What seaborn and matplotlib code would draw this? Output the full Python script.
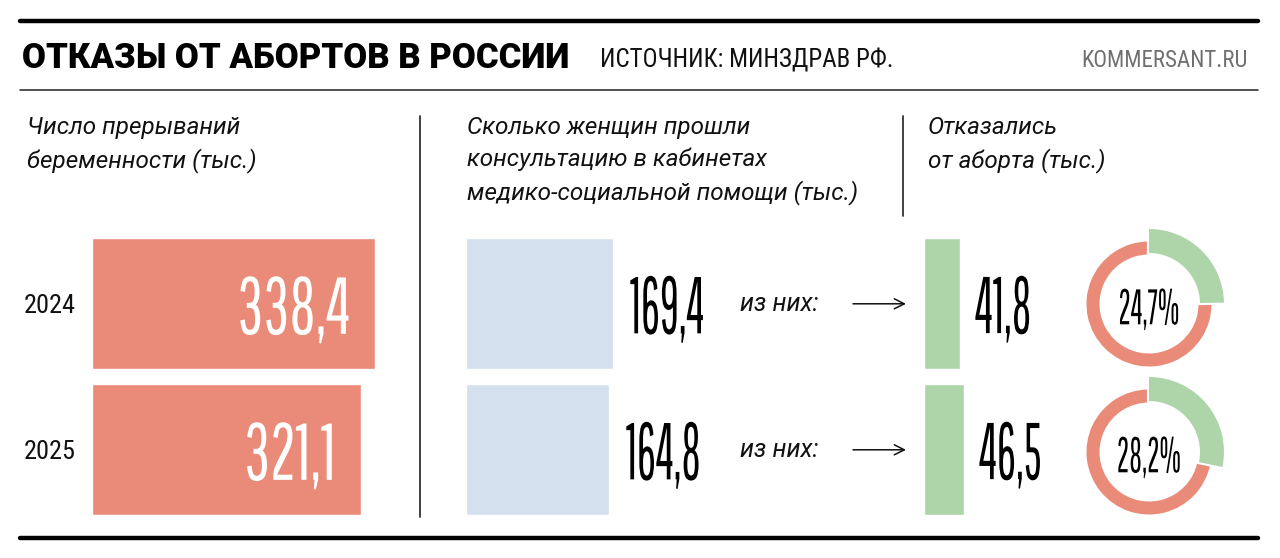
import matplotlib
matplotlib.use("Agg")
import matplotlib.pyplot as plt
import seaborn as sns
import pandas as pd
from matplotlib.text import Text
from matplotlib.patheffects import AbstractPathEffect
from matplotlib.transforms import Affine2D, offset_copy, blended_transform_factory

# ---------------- data ----------------
years = ["2024", "2025"]
abortions = [338.4, 321.1]          # Число прерываний беременности (тыс.)
consulted = [169.4, 164.8]          # прошли консультацию (тыс.)
refused = [41.8, 46.5]              # Отказались от аборта (тыс.)
refused_share = [24.7, 28.2]        # доля отказавшихся, %

title = "ОТКАЗЫ ОТ АБОРТОВ В РОССИИ"
source = "ИСТОЧНИК: МИНЗДРАВ РФ."
brand = "KOMMERSANT.RU"
head_left = "Число прерываний\nбеременности (тыс.)"
head_mid = "Сколько женщин прошли\nконсультацию в кабинетах\nмедико-социальной помощи (тыс.)"
head_right = "Отказались\nот аборта (тыс.)"
of_them = "из них:"

RED = "#E98B78"
BLUE = "#D4E0ED"
GREEN = "#AED4AA"

sns.set_style("white")

W, H = 1280, 558
fig = plt.figure(figsize=(W / 100, H / 100), dpi=100)


def fx(x):
    return x / W


def fy(y):
    return 1 - y / H


def fmt(v):
    return f"{v:.1f}".replace(".", ",")


NUM_FONT = ["Pathway Gothic One", "DejaVu Sans"]


# tall, condensed look for the big numbers: glyphs stretched vertically
class _Tall(AbstractPathEffect):
    def __init__(self, sy):
        super().__init__()
        self.sy = sy

    def draw_path(self, renderer, gc, tpath, affine, rgbFace=None):
        v = tpath.vertices
        top = float(v[:, 1].max()) if len(v) else 0.0
        a = top / 2
        t = Affine2D().translate(0, -a).scale(1, self.sy).translate(0, a) + affine
        renderer.draw_path(gc, tpath, t, rgbFace)


def big_number(s, x, y, transform, size, sy, **kw):
    t = Text(x, y, s, transform=transform, family=NUM_FONT, fontsize=size,
             va="center_baseline", **kw)
    t.set_path_effects([_Tall(sy)])
    t.set_clip_on(False)
    fig.add_artist(t)
    return t


# ---------------- frame lines ----------------
fig.add_artist(plt.Line2D([fx(20), fx(1258)], [fy(20.5), fy(20.5)], color="black", lw=3.2))
fig.add_artist(plt.Line2D([fx(20), fx(1258)], [fy(90), fy(90)], color="#222222", lw=1.1))
fig.add_artist(plt.Line2D([fx(20), fx(1258)], [fy(537.5), fy(537.5)], color="black", lw=3.2))
fig.add_artist(plt.Line2D([fx(420), fx(420)], [fy(116), fy(517)], color="#333333", lw=1.3))
fig.add_artist(plt.Line2D([fx(903), fx(903)], [fy(116), fy(216)], color="#333333", lw=1.3))

# ---------------- header ----------------
fig.text(fx(22), fy(55), title, family="Roboto", fontweight=900, fontsize=25,
         va="center_baseline", ha="left", color="black")
fig.text(fx(600), fy(58), source, family="Roboto Condensed", fontsize=18,
         va="center_baseline", ha="left", color="#111111")
fig.text(fx(1248), fy(58), brand, family="Roboto Condensed", fontsize=16.5,
         va="center_baseline", ha="right", color="#707070")

hkw = dict(family="Roboto", style="italic", fontsize=17.5, va="top", ha="left",
           color="#111111", linespacing=1.46)
fig.text(fx(27), fy(116), head_left, **hkw)
fig.text(fx(467), fy(116), head_mid, **hkw)
fig.text(fx(928), fy(116), head_right, **hkw)

# ---------------- bar panels ----------------
row_top, row_h = 230.8, 292.0
bottom = fy(row_top + row_h)
height = row_h / H
BAR_W = 0.897


def panel(left_px, width_px, scale):
    ax = fig.add_axes([fx(left_px), bottom, width_px / W, height])
    ax.set_xlim(0, width_px / scale)
    return ax


def clean(ax, keep_yticks=False):
    ax.set_ylim(1.5, -0.5)
    for s in ax.spines.values():
        s.set_visible(False)
    ax.set_xticks([])
    ax.set_xlabel("")
    ax.set_ylabel("")
    ax.patch.set_alpha(0)
    if not keep_yticks:
        ax.set_yticks([])


# Red panel
ax_r = panel(92, 320, 0.837)
df_r = pd.DataFrame({"year": years, "value": abortions})
sns.barplot(data=df_r, x="value", y="year", orient="h", color=RED, saturation=1,
            width=BAR_W, ax=ax_r, order=years)
clean(ax_r, keep_yticks=True)
ax_r.tick_params(axis="y", length=0, pad=12)
for lab in ax_r.get_yticklabels():
    lab.set_fontfamily("Roboto Condensed")
    lab.set_fontsize(19)
    lab.set_color("#111111")
tr_r = offset_copy(ax_r.transData, fig=fig, x=-25, y=0, units="dots")
for i, v in enumerate(abortions):
    big_number(fmt(v), v, i, tr_r, 45.8, 1.266, ha="right", color="white")

# Blue panel
ax_b = panel(466, 300, 0.868)
df_b = pd.DataFrame({"year": years, "value": consulted})
sns.barplot(data=df_b, x="value", y="year", orient="h", color=BLUE, saturation=1,
            width=BAR_W, ax=ax_b, order=years)
clean(ax_b)
tr_b = offset_copy(ax_b.transData, fig=fig, x=17, y=0, units="dots")
blend_b = blended_transform_factory(fig.transFigure, ax_b.transData)
for i, v in enumerate(consulted):
    big_number(fmt(v), v, i, tr_b, 33.7, 1.72, ha="left", color="black")
    fig.text(fx(740), i, of_them, transform=blend_b,
             family="Roboto", style="italic", fontsize=18, ha="left", va="center",
             color="#111111")
    ax_b.annotate("", xy=(fx(906), i), xytext=(fx(853), i),
                  xycoords=("figure fraction", ax_b.transData),
                  textcoords=("figure fraction", ax_b.transData),
                  arrowprops=dict(arrowstyle="->", lw=1.1, color="#111111",
                                  mutation_scale=18, shrinkA=0, shrinkB=0))

# Green panel
ax_g = panel(924, 120, 0.862)
df_g = pd.DataFrame({"year": years, "value": refused})
sns.barplot(data=df_g, x="value", y="year", orient="h", color=GREEN, saturation=1,
            width=BAR_W, ax=ax_g, order=years)
clean(ax_g)
tr_g = offset_copy(ax_g.transData, fig=fig, x=15, y=0, units="dots")
for i, v in enumerate(refused):
    big_number(fmt(v), v, i, tr_g, 34.0, 1.70, ha="left", color="black")

# ---------------- donuts ----------------
donut_cx = 1149
donut_cy = [304, 452]
for share, cy in zip(refused_share, donut_cy):
    size = 170
    axd = fig.add_axes([fx(donut_cx - size / 2), fy(cy + size / 2), size / W, size / H])
    parts = [share, 100 - share]
    axd.pie(parts, radius=64.6, startangle=90, counterclock=False,
            colors=["none", RED],
            wedgeprops=dict(width=17.2, edgecolor="white", linewidth=3))
    axd.pie(parts, radius=75, startangle=90, counterclock=False,
            colors=[GREEN, "none"],
            wedgeprops=dict(width=24, edgecolor="none", linewidth=0))
    axd.set_xlim(-size / 2, size / 2)
    axd.set_ylim(-size / 2, size / 2)
    axd.set_aspect("equal")
    axd.axis("off")
    big_number(fmt(share) + "%", 0, -2, axd.transData, 22.3, 1.61, ha="center",
               color="black")

fig.savefig("out.png", dpi=100)
